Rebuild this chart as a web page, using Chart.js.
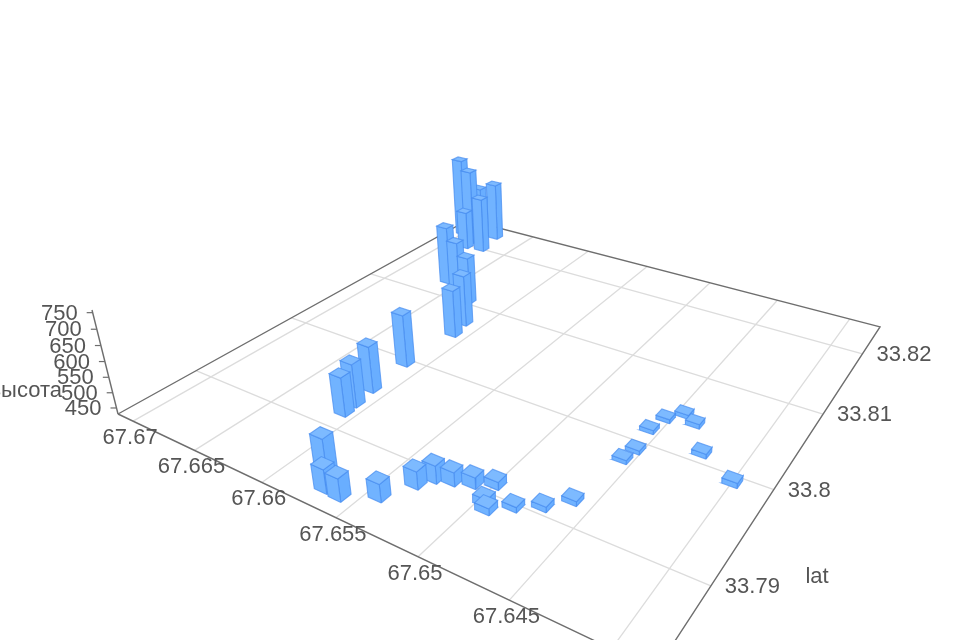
<!DOCTYPE html>
<html>
<head>
<meta charset="utf-8">
<style>
  html, body { margin: 0; padding: 0; background: #fff; }
  canvas { display: block; }
</style>
<script src="https://cdn.jsdelivr.net/npm/chart.js@4"></script>
</head>
<body>
<canvas id="chart" width="960" height="640"></canvas>
<script>
const lons = [67.6701, 67.6686, 67.6686, 67.6675, 67.6671, 67.6684, 67.6659, 67.6646, 67.6629, 67.6613, 67.661, 67.6613, 67.6611, 67.6609, 67.6608, 67.6574, 67.657, 67.656, 67.6543, 67.6534, 67.6529, 67.652, 67.651, 67.65, 67.6497, 67.6493, 67.6483, 67.6471, 67.6461, 67.6456, 67.6454, 67.6456, 67.6453, 67.6446, 67.6437, 67.6423, 67.64];
const lats = [33.8223, 33.8211, 33.8226, 33.8232, 33.8201, 33.8198, 33.8127, 33.8119, 33.8105, 33.8072, 33.8052, 33.7995, 33.7953, 33.7932, 33.7919, 33.7856, 33.7849, 33.7848, 33.7861, 33.7883, 33.7894, 33.7898, 33.7903, 33.791, 33.7892, 33.7887, 33.7898, 33.7908, 33.7923, 33.7977, 33.7991, 33.8017, 33.8035, 33.8047, 33.804, 33.8011, 33.7993];
const heights = [734, 718, 631, 651, 638, 575, 643, 614, 600, 609, 595, 606, 584, 572, 558, 571, 505, 501, 486, 486, 486, 474, 466, 455, 455, 451, 447, 447, 445, 443, 443, 443, 443, 443, 445, 445, 446];

const lonTicks = ["67.67", "67.665", "67.66", "67.655", "67.65", "67.645", "67.64"];
const latTicks = ["33.82", "33.81", "33.8", "33.79"];
const heightTicks = [450, 500, 550, 600, 650, 700, 750];

// axis extents of the 3D box
const lonMax = 67.6713, lonSpan = 0.0333;
const latMin = 33.7831, latSpan = 0.04207;
const heightMin = 430, heightSpan = 328;
const barHalfLon = 0.00042, barHalfLat = 0.00047;

// camera: u runs along lon, v along lat, h up
const cam = [
  [347.9, 566.9, -31.0, 118],
  [61.8, -92.1, -120.9, 414],
  [-0.2898, 0.4634, -0.05445, 1]
];

function project(lon, lat, z) {
  const u = (lonMax - lon) / lonSpan;
  const v = (lat - latMin) / latSpan;
  const h = (z - heightMin) / heightSpan;
  const w = cam[2][0] * u + cam[2][1] * v + cam[2][2] * h + cam[2][3];
  return {
    x: (cam[0][0] * u + cam[0][1] * v + cam[0][2] * h + cam[0][3]) / w,
    y: (cam[1][0] * u + cam[1][1] * v + cam[1][2] * h + cam[1][3]) / w,
    w: w
  };
}

function lineSet(points, color, width, order) {
  return { data: points, showLine: true, borderColor: color, borderWidth: width, pointRadius: 0, fill: false, order: order };
}

function faceSet(points, color, order) {
  return {
    data: points.concat([points[0]]),
    showLine: true,
    polygon: true,
    backgroundColor: color,
    borderColor: "rgba(70,140,240,0.7)",
    borderWidth: 1.1,
    pointRadius: 0,
    fill: false,
    order: order
  };
}

const datasets = [];
const lonEnd = lonMax - lonSpan, latEnd = latMin + latSpan;

lonTicks.forEach(t => {
  const lon = parseFloat(t);
  datasets.push(lineSet([project(lon, latMin, heightMin), project(lon, latEnd, heightMin)], "#dcdcdc", 1.3, 5000));
});
latTicks.forEach(t => {
  const lat = parseFloat(t);
  datasets.push(lineSet([project(lonMax, lat, heightMin), project(lonEnd, lat, heightMin)], "#dcdcdc", 1.3, 5000));
});

// box outline on the floor
const floorCorners = [
  project(lonMax, latMin, heightMin),
  project(lonEnd, latMin, heightMin),
  project(lonEnd, latEnd, heightMin),
  project(lonMax, latEnd, heightMin),
  project(lonMax, latMin, heightMin)
];
datasets.push(lineSet(floorCorners, "#6e6e6e", 1.4, 4000));

// height axis and its ticks
datasets.push(lineSet([project(lonMax, latMin, heightMin), project(lonMax, latMin, heightMin + heightSpan)], "#6e6e6e", 1.4, 4000));
heightTicks.forEach(z => {
  const p = project(lonMax, latMin, z);
  datasets.push(lineSet([p, { x: p.x - 6, y: p.y }], "#6e6e6e", 1.2, 4000));
});

// bars, far ones first
const barOrder = lons.map((_, i) => i).sort((a, b) => project(lons[b], lats[b], heightMin).w - project(lons[a], lats[a], heightMin).w);
barOrder.forEach((i, n) => {
  const l0 = lons[i] - barHalfLon, l1 = lons[i] + barHalfLon;
  const a0 = lats[i] - barHalfLat, a1 = lats[i] + barHalfLat;
  const z = heights[i];
  const order = 3000 - n * 3;
  // side towards low lon
  datasets.push(faceSet([project(l0, a0, heightMin), project(l0, a1, heightMin), project(l0, a1, z), project(l0, a0, z)], "#69aeff", order));
  // side towards low lat
  datasets.push(faceSet([project(l0, a0, heightMin), project(l1, a0, heightMin), project(l1, a0, z), project(l0, a0, z)], "#71b3ff", order - 1));
  // top
  datasets.push(faceSet([project(l0, a0, z), project(l1, a0, z), project(l1, a1, z), project(l0, a1, z)], "#7dbaff", order - 2));
});

const polygonFill = {
  id: "polygonFill",
  beforeDatasetDraw(chart, args) {
    const ds = chart.data.datasets[args.index];
    if (!ds.polygon) return;
    const pts = args.meta.data;
    const ctx = chart.ctx;
    ctx.save();
    ctx.beginPath();
    pts.forEach((p, i) => i ? ctx.lineTo(p.x, p.y) : ctx.moveTo(p.x, p.y));
    ctx.closePath();
    ctx.fillStyle = ds.backgroundColor;
    ctx.fill();
    ctx.restore();
  }
};

const axisLabels = {
  id: "axisLabels",
  afterDraw(chart) {
    const ctx = chart.ctx;
    const sx = chart.scales.x, sy = chart.scales.y;
    const put = (text, x, y, align) => {
      ctx.textAlign = align;
      ctx.fillText(text, x, y);
    };
    ctx.save();
    ctx.font = "22px 'Liberation Sans', Arial, sans-serif";
    ctx.fillStyle = "#555";
    ctx.textBaseline = "middle";
    lonTicks.forEach(t => {
      const p = project(parseFloat(t), latMin, heightMin);
      if (p.y < 630) put(t, sx.getPixelForValue(p.x) - 3, sy.getPixelForValue(p.y) + 17, "center");
    });
    latTicks.forEach(t => {
      const p = project(lonEnd, parseFloat(t), heightMin);
      put(t, sx.getPixelForValue(p.x) + 14, sy.getPixelForValue(p.y) + 1, "left");
    });
    heightTicks.forEach(z => {
      const p = project(lonMax, latMin, z);
      put(String(z), sx.getPixelForValue(p.x) - 15, sy.getPixelForValue(p.y) + 1, "right");
    });
    put("lat", 817, 577, "center");
    put("высота", 62, 391, "right");
    ctx.restore();
  }
};

new Chart(document.getElementById("chart").getContext("2d"), {
  type: "scatter",
  data: { datasets: datasets },
  options: {
    responsive: false,
    animation: false,
    layout: { padding: 0 },
    plugins: { legend: { display: false }, tooltip: { enabled: false } },
    scales: {
      x: { type: "linear", min: 0, max: 960, display: false },
      y: { type: "linear", min: 0, max: 640, reverse: true, display: false }
    }
  },
  plugins: [polygonFill, axisLabels]
});
</script>
</body>
</html>
